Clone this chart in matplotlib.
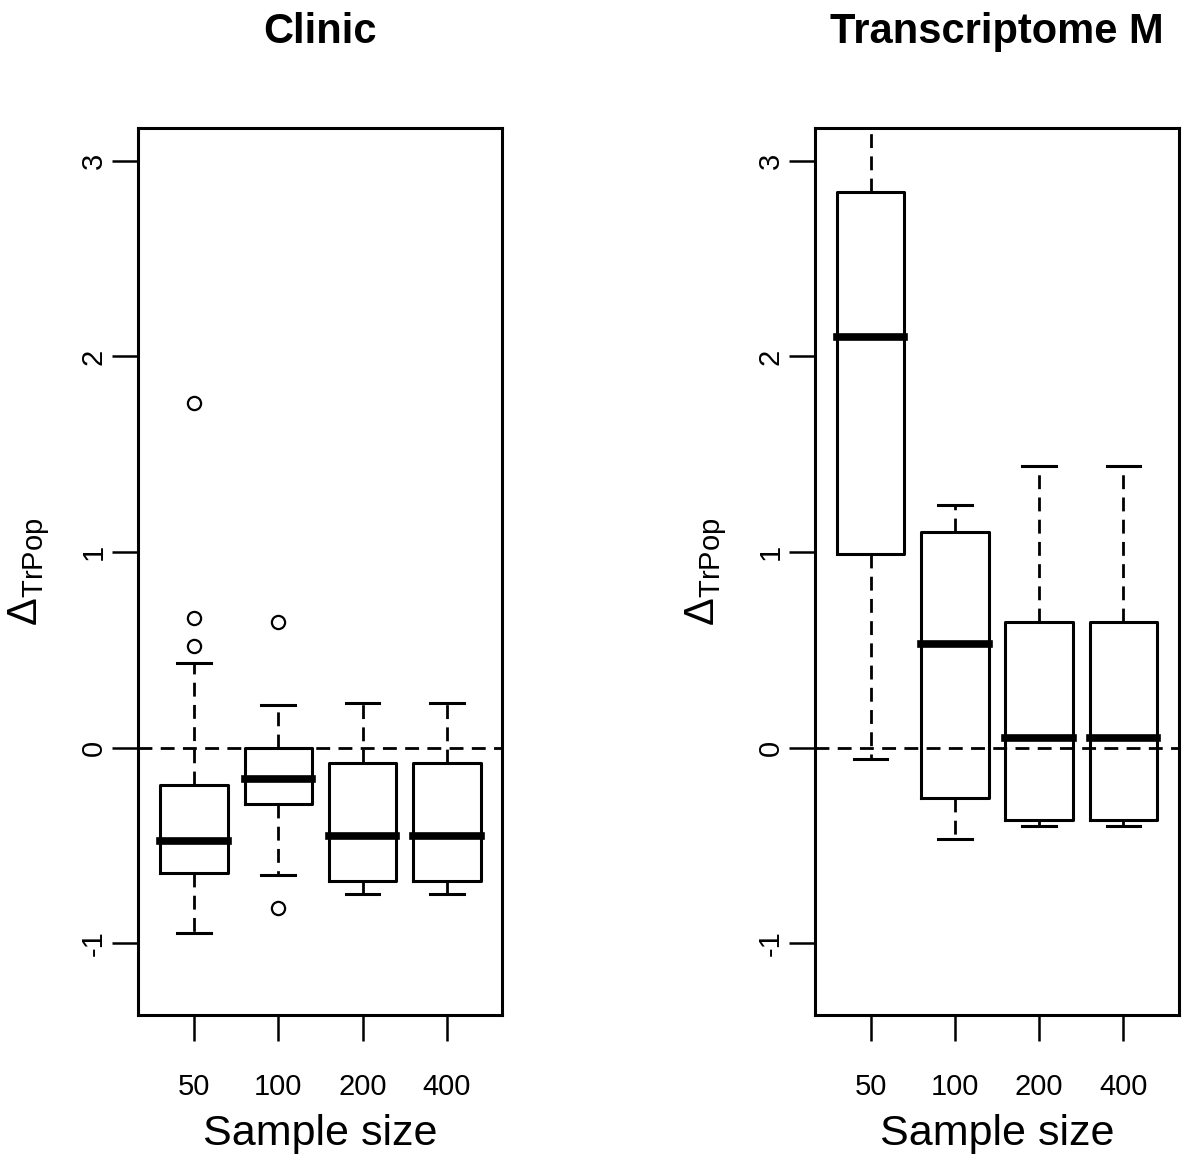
import numpy as np
import matplotlib
matplotlib.use("Agg")
from matplotlib import pyplot as plt

plt.rcParams['font.family'] = ['Liberation Sans', 'DejaVu Sans']
plt.rcParams['mathtext.fontset'] = 'custom'
plt.rcParams['mathtext.rm'] = 'Liberation Sans'
plt.rcParams['mathtext.it'] = 'Liberation Sans:italic'
plt.rcParams['axes.unicode_minus'] = False

sizes = ['50', '100', '200', '400']

clinic_lo = [-0.95, -0.65, -0.75, -0.75]
clinic_q1 = [-0.64, -0.29, -0.68, -0.68]
clinic_med = [-0.48, -0.16, -0.45, -0.45]
clinic_q3 = [-0.19, 0.00, -0.08, -0.08]
clinic_hi = [0.43, 0.22, 0.23, 0.23]
clinic_out = [[0.52, 0.66, 1.76], [0.64, -0.82], [], []]

transc_lo = [-0.06, -0.47, -0.40, -0.40]
transc_q1 = [0.99, -0.26, -0.37, -0.37]
transc_med = [2.10, 0.53, 0.05, 0.05]
transc_q3 = [2.84, 1.10, 0.64, 0.64]
transc_hi = [3.40, 1.24, 1.44, 1.44]
transc_out = [[], [], [], []]

dash = (0, (5, 3))


def panel(ax, title, lo, q1, med, q3, hi, out):
    stats = []
    for i in range(len(sizes)):
        stats.append({'whislo': lo[i], 'q1': q1[i], 'med': med[i], 'q3': q3[i],
                      'whishi': hi[i], 'fliers': out[i], 'label': sizes[i]})
    ax.axhline(0, color="black", lw=2, linestyle=dash, zorder=1)
    ax.bxp(stats, positions=[1, 2, 3, 4], widths=0.8, capwidths=0.4,
           boxprops=dict(color="black", lw=2.2),
           whiskerprops=dict(color="black", lw=2, linestyle=dash),
           capprops=dict(color="black", lw=2.2),
           medianprops=dict(color="black", lw=5.5, solid_capstyle="projecting"),
           flierprops=dict(marker="o", markerfacecolor="none", markeredgecolor="black",
                           markersize=9.5, markeredgewidth=1.6, linestyle="none"))
    ax.set_xlim(0.34, 4.66)
    ax.set_ylim(-1.368, 3.168)
    ax.set_yticks([-1, 0, 1, 2, 3])
    ax.set_yticklabels(['-1', '0', '1', '2', '3'], rotation=90, va='center')
    for s in ax.spines.values():
        s.set_linewidth(2.2)
    ax.tick_params(axis='both', direction='out', length=19, width=1.8, labelsize=21)
    ax.tick_params(axis='x', pad=23)
    ax.tick_params(axis='y', pad=3)
    ax.set_title(title, fontsize=30, fontweight='bold', pad=61)
    ax.set_xlabel('Sample size', fontsize=31, labelpad=9)
    ax.set_ylabel(r'$\Delta_{\mathrm{TrPop}}$', fontsize=30, labelpad=20)


fig = plt.figure(figsize=(12, 11.69), dpi=100)
ax1 = fig.add_axes([0.1154, 0.1317, 0.3033, 0.7588])
ax2 = fig.add_axes([0.6792, 0.1317, 0.3033, 0.7588])

panel(ax1, 'Clinic', clinic_lo, clinic_q1, clinic_med, clinic_q3, clinic_hi, clinic_out)
panel(ax2, 'Transcriptome M', transc_lo, transc_q1, transc_med, transc_q3, transc_hi, transc_out)

fig.savefig("out.png", dpi=100)
